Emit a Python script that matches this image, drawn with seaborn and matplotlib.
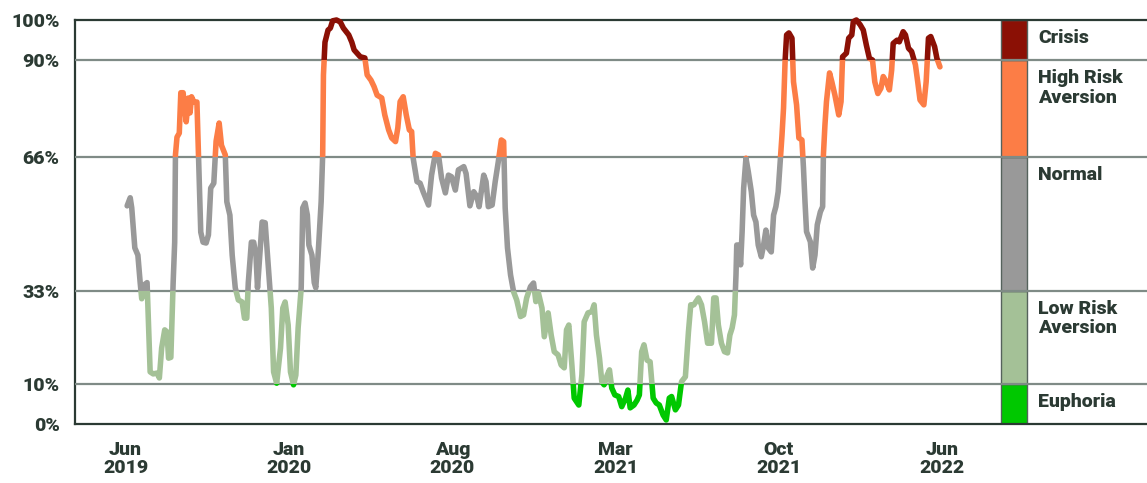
import matplotlib
matplotlib.use("Agg")
import matplotlib.pyplot as plt
import seaborn as sns
import pandas as pd
from matplotlib.patches import Rectangle

# ---------------- data ----------------
days_since_start = [2, 6, 8, 12, 16, 19, 21, 24, 28, 29,
    32, 36, 41, 44, 47, 51, 54, 56, 59, 62,
    64, 65, 67, 70, 72, 75, 79, 82, 84, 86,
    89, 93, 95, 98, 101, 105, 108, 111, 115, 118,
    122, 125, 130, 132, 136, 139, 143, 147, 152, 155,
    158, 160, 164, 167, 170, 172, 175, 178, 182, 186,
    190, 193, 197, 202, 205, 208, 212, 215, 219, 222,
    225, 229, 231, 234, 237, 239, 243, 246, 248, 251,
    255, 257, 258, 260, 264, 267, 270, 275, 280, 284,
    291, 295, 298, 306, 312, 315, 320, 324, 328, 334,
    338, 343, 347, 352, 355, 358, 362, 366, 370, 373,
    375, 380, 384, 388, 395, 399, 404, 408, 412, 417,
    421, 425, 430, 434, 441, 444, 449, 454, 458, 461,
    467, 470, 473, 478, 482, 486, 490, 493, 495, 498,
    502, 506, 510, 515, 519, 523, 528, 532, 535, 538,
    543, 546, 551, 555, 559, 564, 568, 572, 575, 578,
    582, 585, 591, 595, 598, 603, 608, 611, 614, 618,
    621, 624, 628, 631, 634, 638, 643, 647, 652, 655,
    658, 663, 667, 670, 673, 676, 680, 684, 688, 692,
    696, 701, 705, 709, 712, 717, 721, 725, 730, 734,
    737, 741, 747, 751, 755, 759, 764, 767, 770, 773,
    777, 781, 785, 788, 791, 794, 796, 797, 799, 802,
    804, 806, 809, 812, 816, 819, 822, 825, 829, 832,
    835, 838, 842, 845, 848, 851, 854, 856, 858, 860,
    862, 865, 869, 871, 875, 878, 882, 884, 886, 888,
    893, 896, 899, 902, 906, 909, 910, 912, 914, 918,
    921, 925, 930, 933, 935, 940, 943, 947, 949, 953,
    958, 962, 966, 970, 974, 977, 981, 985, 988, 992,
    996, 999, 1001, 1006, 1009, 1014, 1017, 1021, 1025, 1030,
    1033, 1036, 1041, 1044, 1047, 1050, 1055, 1058, 1062]

risk_index = [54, 56, 53.5, 43.6, 41.8, 35, 31, 34.4, 35, 29.5,
    12.9, 12.4, 12.6, 11.4, 18.8, 23.3, 22.8, 16.3, 16.5, 35,
    45, 66.6, 71, 72, 82, 82, 74.8, 80.7, 77, 81,
    79.7, 79.7, 66.6, 47.5, 45, 44.8, 46.8, 58.4, 59.6, 70,
    74.5, 69, 66.6, 55, 51.7, 41.8, 33.7, 30.7, 30.2, 26.2,
    26.2, 35, 45, 45, 41.8, 33.7, 41.8, 50, 49.8, 39.4,
    28.7, 12.9, 10.1, 18.8, 28.7, 30.2, 24.5, 12.9, 9.7, 12.1,
    23.8, 33.7, 53.5, 54.7, 51.7, 44.3, 41.8, 35, 33.7, 41.8,
    55, 66.6, 86.4, 94.5, 97.5, 98, 99.8, 100, 99.5, 98,
    96.3, 94.5, 92.6, 90.9, 90.6, 86.4, 85.1, 83.5, 81.4, 80.7,
    76.5, 72.8, 70.8, 69.9, 73.3, 79.8, 81, 76.5, 72.8, 72.4,
    65.8, 60, 59.6, 57.5, 54.2, 61.6, 67, 66.6, 60.9, 57.2,
    61.6, 61.2, 57.9, 62.9, 63.7, 62, 54, 57.5, 56.3, 53.8,
    61.6, 60, 53.8, 54.2, 60, 64.9, 70.3, 69.9, 53.5, 43.6,
    36.9, 32.7, 30.7, 26.6, 27, 31.2, 34, 34.9, 30.3, 32.7,
    28.7, 21.6, 27.5, 22, 17.9, 17.1, 14.6, 13.9, 23.3, 24.5,
    14.6, 6.4, 4.7, 12.1, 25.3, 27.5, 27.8, 29.5, 22, 16.3,
    10.5, 9.7, 12.1, 13.4, 8.9, 7.2, 6.8, 4.3, 6.4, 8.4,
    4, 4.7, 5.9, 7.2, 17.9, 19.6, 15.8, 15.4, 6.4, 5.2,
    4.7, 2.2, 1, 6.4, 6.8, 3.5, 4.7, 10.5, 11.7, 22.8,
    29.5, 29.5, 31.2, 29.5, 25.3, 20, 20, 31.2, 31.2, 24.5,
    20, 17.9, 17.6, 22, 23.8, 27, 36.9, 44.3, 44.3, 39.4,
    47.6, 58.4, 65.8, 62.5, 57.5, 51.7, 50, 44.3, 41.4, 44.3,
    48, 43.6, 42.6, 51.7, 53.8, 57.5, 65.8, 71.5, 78.2, 89.7,
    96.3, 96.8, 95.5, 84.7, 79, 70.8, 70.3, 63.4, 55, 47.6,
    45.1, 38.6, 41.8, 49.3, 52.5, 53.8, 66.6, 74, 79.8, 86.9,
    84.7, 81.4, 76.5, 79.8, 90.9, 91.8, 95.5, 96.3, 99.6, 100,
    98.8, 97.5, 93.8, 90.5, 90.1, 84.7, 81.8, 83.1, 86, 84.7,
    82.7, 87.6, 94.2, 95, 94.6, 97.1, 96.3, 93, 92.2, 88.9,
    84.7, 80.2, 79, 84.7, 95.5, 95.9, 93.4, 90.5, 88.4]

regime_names = ["Euphoria", "Low Risk\nAversion", "Normal", "High Risk\nAversion", "Crisis"]
regime_lower = [0, 10, 33, 66, 90]
regime_upper = [10, 33, 66, 90, 100]
regime_colors = ["#00c800", "#a4c197", "#999999", "#fc7d46", "#8b1005"]

ytick_values = [0, 10, 33, 66, 90, 100]
ytick_labels = ["0%", "10%", "33%", "66%", "90%", "100%"]
xtick_days = [0, 213, 426, 639, 852, 1065]
xtick_labels = ["Jun\n2019", "Jan\n2020", "Aug\n2020", "Mar\n2021", "Oct\n2021", "Jun\n2022"]

# ---------------- style ----------------
TEXT = "#2b3a33"
GRID = "#7f8b86"
sns.set_theme(style="white")
plt.rcParams["font.family"] = ["Roboto", "DejaVu Sans"]
FW = "black"

fig = plt.figure(figsize=(11.47, 4.83), dpi=100)
ax = fig.add_axes([75 / 1147, 59 / 483, 1072 / 1147, 404 / 483])

x_left, x_right = -66, 1332
band_x0, band_x1 = 1142, 1176
label_x = 1190

df = pd.DataFrame({"day": days_since_start, "value": risk_index})

# line, coloured by regime via clipping to each horizontal band
for lo, hi, col in zip(regime_lower, regime_upper, regime_colors):
    sns.lineplot(data=df, x="day", y="value", color=col, linewidth=4.0,
                 estimator=None, sort=False, ax=ax, zorder=4)
    line = ax.lines[-1]
    line.set_solid_capstyle("round")
    line.set_solid_joinstyle("round")
    clo = lo if lo > 0 else -20
    chi = hi if hi < 100 else 120
    rect = Rectangle((x_left, clo), x_right - x_left, chi - clo,
                     transform=ax.transData, facecolor="none", edgecolor="none")
    line.set_clip_path(rect)

# regime colour band on the right
for lo, hi, col, name in zip(regime_lower, regime_upper, regime_colors, regime_names):
    ax.bar((band_x0 + band_x1) / 2, hi - lo, bottom=lo, width=band_x1 - band_x0,
           color=col, edgecolor="#55625c", linewidth=1.0, zorder=2)
    ax.annotate(name, xy=(label_x, hi), xytext=(0, -9), textcoords="offset pixels",
                ha="left", va="top", fontsize=14, fontweight=FW, color=TEXT,
                linespacing=1.12)

# gridlines
for v in ytick_values[1:-1]:
    ax.axhline(v, color=GRID, linewidth=1.6, zorder=3)

ax.set_xlim(x_left, x_right)
ax.set_ylim(0, 100)
ax.set_xlabel("")
ax.set_ylabel("")

ax.set_yticks(ytick_values)
ax.set_yticklabels(ytick_labels, fontsize=14, fontweight=FW, color=TEXT)
ax.set_xticks(xtick_days)
ax.set_xticklabels(xtick_labels, fontsize=14, fontweight=FW, color=TEXT,
                   linespacing=1.05)
ax.tick_params(axis="y", length=0, pad=11)
ax.tick_params(axis="x", direction="in", length=6, width=1.2, color=TEXT, pad=12)

for side in ["left", "bottom", "top"]:
    ax.spines[side].set_visible(True)
    ax.spines[side].set_color(TEXT)
    ax.spines[side].set_linewidth(1.6)
ax.spines["right"].set_visible(False)
ax.grid(False)

fig.savefig("out.png", dpi=100)
